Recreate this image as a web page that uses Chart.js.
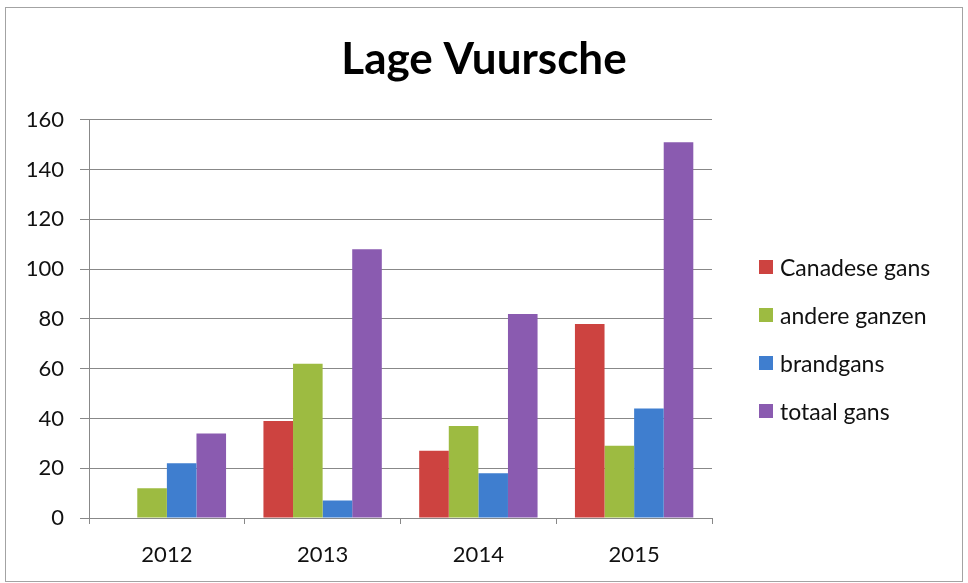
<!DOCTYPE html>
<html lang="nl">
<head>
<meta charset="utf-8">
<title>Lage Vuursche</title>
<script src="https://cdn.jsdelivr.net/npm/chart.js@4.4.1/dist/chart.umd.min.js"></script>
<style>
    html, body { margin: 0; padding: 0; background: #ffffff; }
    #wrap { position: relative; width: 968px; height: 583px; }
    #frame { position: absolute; left: 5px; top: 7px; width: 956px; height: 573px; border: 1px solid #a3a3a3; pointer-events: none; }
    #legend { position: absolute; left: 759px; top: 253px; font-family: Lato, sans-serif; font-size: 23px; color: #111111; }
    #legend .item { display: flex; align-items: center; height: 28px; margin-bottom: 20px; }
    #legend .swatch { width: 14px; height: 14px; margin-right: 7px; }
</style>
</head>
<body>
<div id="wrap">
    <canvas id="goose-chart" width="968" height="583"></canvas>
    <div id="legend"></div>
    <div id="frame"></div>
</div>
<script>
// --- Data ---
const years = ['2012', '2013', '2014', '2015'];
const canadeseGans = [0, 39, 27, 78];
const andereGanzen = [12, 62, 37, 29];
const brandgans = [22, 7, 18, 44];
const totaalGans = [34, 108, 82, 151];
const seriesNames = ['Canadese gans', 'andere ganzen', 'brandgans', 'totaal gans'];
const yTicks = [0, 20, 40, 60, 80, 100, 120, 140, 160];

// --- Style ---
const seriesColors = ['#cd4340', '#9dbb41', '#3f7ecf', '#8a5bb0'];
const gridColor = '#888888';
const textColor = '#111111';

document.addEventListener('DOMContentLoaded', function () {
    const ctx = document.getElementById('goose-chart').getContext('2d');
    const seriesValues = [canadeseGans, andereGanzen, brandgans, totaalGans];

    const datasets = seriesNames.map((name, i) => ({
        label: name,
        data: seriesValues[i],
        backgroundColor: seriesColors[i],
        borderWidth: 0,
        categoryPercentage: 0.76,
        barPercentage: 1.0,
    }));

    new Chart(ctx, {
        type: 'bar',
        data: { labels: years, datasets: datasets },
        options: {
            responsive: false,
            animation: false,
            plugins: {
                legend: { display: false },
                tooltip: { enabled: false },
                title: {
                    display: true,
                    text: 'Lage Vuursche',
                    color: '#000000',
                    font: { family: 'Lato', size: 44, weight: 'bold', lineHeight: 1.2 },
                    padding: { top: 33, bottom: 34 },
                },
            },
            scales: {
                x: {
                    grid: {
                        display: true,
                        offset: true,
                        drawOnChartArea: false,
                        drawTicks: true,
                        tickLength: 6,
                        color: gridColor,
                    },
                    border: { display: true, color: gridColor },
                    ticks: {
                        color: textColor,
                        font: { family: 'Lato', size: 22 },
                        padding: 18,
                    },
                    afterFit: (scale) => { scale.height = 65; },
                },
                y: {
                    min: 0,
                    max: 160,
                    afterBuildTicks: (scale) => { scale.ticks = yTicks.map(v => ({ value: v })); },
                    grid: { color: gridColor, tickLength: 9, drawTicks: true },
                    border: { display: true, color: gridColor },
                    ticks: {
                        color: textColor,
                        font: { family: 'Lato', size: 22 },
                        padding: 16,
                    },
                    afterFit: (scale) => { scale.width = 89; },
                },
                // empty right axis, only keeps room for the legend
                spacer: {
                    type: 'linear',
                    position: 'right',
                    grid: { display: false, drawTicks: false },
                    border: { display: false },
                    ticks: { display: false },
                    afterFit: (scale) => { scale.width = 256; },
                },
            },
        },
    });

    // --- Legend ---
    const legendEl = document.getElementById('legend');
    seriesNames.forEach((name, i) => {
        legendEl.innerHTML += `<div class="item"><span class="swatch" style="background:${seriesColors[i]}"></span>${name}</div>`;
    });
});
</script>
</body>
</html>
